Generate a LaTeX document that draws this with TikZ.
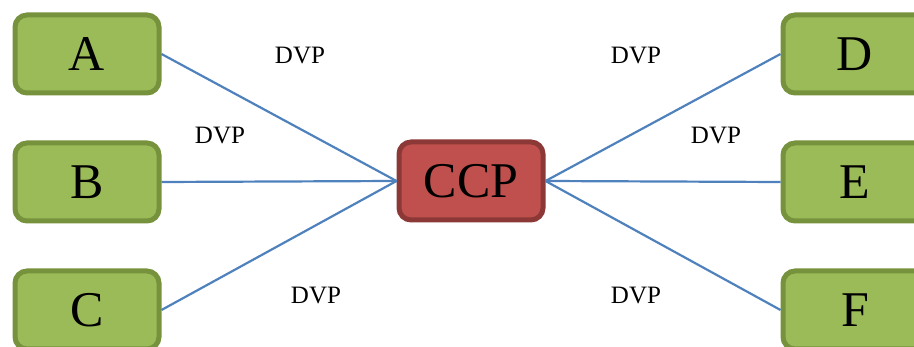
\documentclass[tikz,border=0pt]{standalone}
\usepackage{fontspec}
\setmainfont{Liberation Serif}

\definecolor{sitegreen}{HTML}{9BBB59}
\definecolor{siteborder}{HTML}{76923C}
\definecolor{hubred}{HTML}{C0504D}
\definecolor{hubborder}{HTML}{8C3836}
\definecolor{linkblue}{HTML}{4F81BD}

\tikzset{
  site/.style={draw=siteborder, fill=sitegreen, line width=5pt,
    rounded corners=12pt, minimum width=144pt, minimum height=78pt,
    font=\fontsize{50}{50}\selectfont},
  hub/.style={site, draw=hubborder, fill=hubred},
  link/.style={draw=linkblue, line width=2.2pt},
  dvp/.style={font=\fontsize{25}{25}\selectfont}
}

\begin{document}
\begin{tikzpicture}[x=1pt,y=-1pt]
  \clip (0,0) rectangle (914,347);
  \useasboundingbox (0,0) rectangle (914,347);

  \node[hub] (ccp) at (471,181) {CCP};

  \node[site] (a) at (87,54) {A};
  \node[site] (b) at (87,182) {B};
  \node[site] (c) at (87,310) {C};

  \node[site] (d) at (855,54) {D};
  \node[site] (e) at (855,182) {E};
  \node[site] (f) at (855,310) {F};

  \draw[link] (a.east) -- (ccp.west);
  \draw[link] (b.east) -- (ccp.west);
  \draw[link] (c.east) -- (ccp.west);
  \draw[link] (d.west) -- (ccp.east);
  \draw[link] (e.west) -- (ccp.east);
  \draw[link] (f.west) -- (ccp.east);

  \node[dvp] (dvp1) at (300,56) {DVP};
  \node[dvp] (dvp2) at (220,136) {DVP};
  \node[dvp] (dvp3) at (316,296) {DVP};
  \node[dvp] (dvp4) at (636,56) {DVP};
  \node[dvp] (dvp5) at (716,136) {DVP};
  \node[dvp] (dvp6) at (636,296) {DVP};

\end{tikzpicture}
\end{document}
